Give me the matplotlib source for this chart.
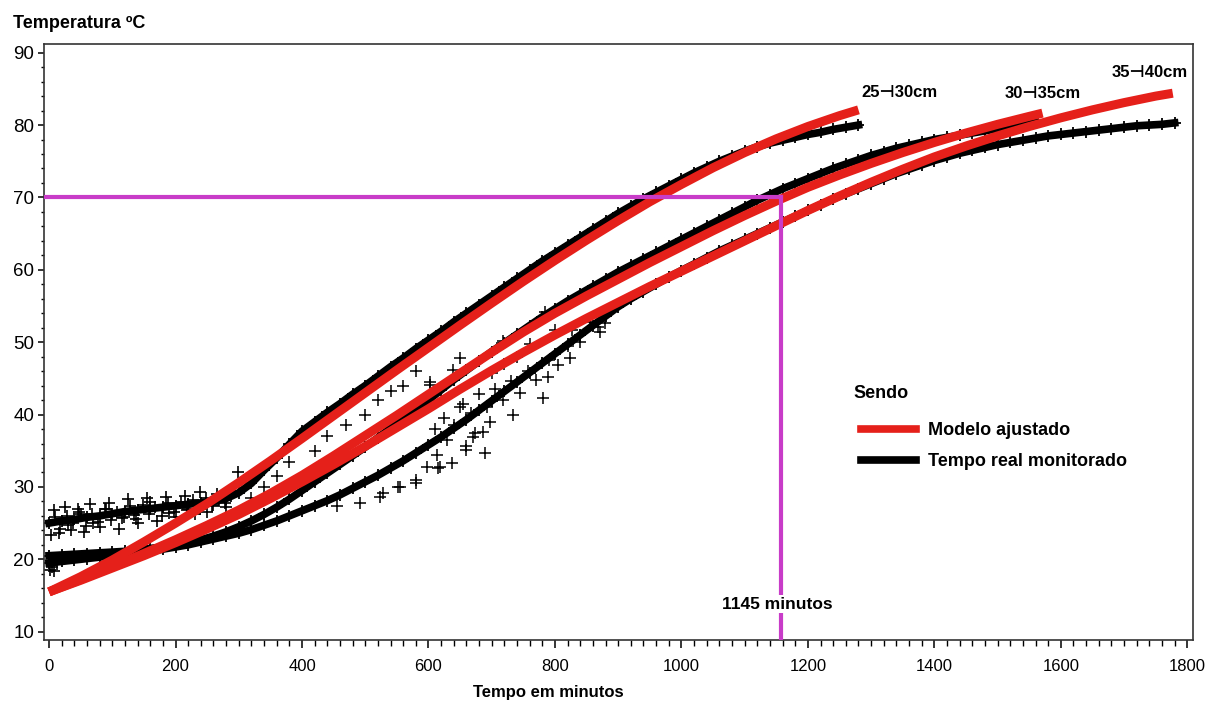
import matplotlib

matplotlib.use("Agg")

import matplotlib.pyplot as plt
import numpy as np
from matplotlib.lines import Line2D
from matplotlib.ticker import MultipleLocator

plt.rcParams["font.family"] = ["Liberation Sans", "DejaVu Sans"]

# =====================
# DATA
# =====================

# monitored temperatures (black +), one reading every 20 minutes
obs_a_t = np.arange(0, 1281, 20)
obs_a = [25.0, 25.3, 25.5, 25.8, 26.0, 26.3, 26.6, 26.8, 27.0, 27.2,
         27.4, 27.6, 27.8, 28.0, 28.4, 29.2, 30.5, 32.3, 34.0, 35.9,
         37.7, 39.0, 40.3, 41.5, 42.8, 44.0, 45.3, 46.6, 47.8, 49.1,
         50.3, 51.5, 52.8, 54.0, 55.2, 56.4, 57.6, 58.8, 60.0, 61.2,
         62.3, 63.4, 64.5, 65.6, 66.7, 67.8, 68.8, 69.8, 70.7, 71.6,
         72.5, 73.4, 74.2, 75.0, 75.7, 76.4, 77.0, 77.5, 77.9, 78.3,
         78.7, 79.0, 79.4, 79.7, 80.0]

obs_b_t = np.arange(0, 1561, 20)
obs_b = [20.5, 20.6, 20.7, 20.8, 20.9, 21.0, 21.1, 21.3, 21.5, 21.7,
         22.0, 22.3, 22.7, 23.2, 23.8, 24.5, 25.3, 26.2, 27.2, 28.3,
         29.5, 30.7, 31.9, 33.1, 34.3, 35.5, 36.8, 38.1, 39.4, 40.7,
         42.0, 43.4, 44.8, 46.1, 47.4, 48.7, 49.9, 51.1, 52.3, 53.5,
         54.6, 55.7, 56.7, 57.7, 58.7, 59.7, 60.6, 61.5, 62.4, 63.3,
         64.2, 65.1, 66.0, 66.9, 67.8, 68.7, 69.6, 70.4, 71.2, 71.9,
         72.6, 73.3, 74.0, 74.6, 75.2, 75.8, 76.3, 76.8, 77.2, 77.6,
         78.0, 78.3, 78.6, 78.9, 79.2, 79.5, 79.8, 80.1, 80.4]

obs_c_t = np.arange(0, 1781, 20)
obs_c = [19.5, 19.7, 19.9, 20.1, 20.3, 20.5, 20.7, 20.9, 21.1, 21.4,
         21.7, 22.0, 22.4, 22.8, 23.2, 23.6, 24.1, 24.7, 25.3, 26.0,
         26.7, 27.4, 28.1, 28.9, 29.8, 30.7, 31.6, 32.6, 33.6, 34.7,
         35.8, 36.9, 38.1, 39.3, 40.6, 41.9, 43.2, 44.5, 45.8, 47.1,
         48.4, 49.7, 51.0, 52.3, 53.6, 54.9, 56.0, 57.0, 58.0, 59.0,
         59.9, 60.8, 61.7, 62.6, 63.4, 64.2, 65.0, 65.8, 66.6, 67.4,
         68.2, 69.0, 69.8, 70.5, 71.2, 71.9, 72.6, 73.3, 73.9, 74.5,
         75.1, 75.6, 76.1, 76.5, 76.9, 77.3, 77.6, 77.9, 78.2, 78.5,
         78.7, 78.9, 79.1, 79.3, 79.5, 79.7, 79.9, 80.0, 80.1, 80.3]

# scattered readings of the early plateau
early_t = [3, 8, 15, 25, 35, 45, 55, 65, 80, 95,
           110, 125, 140, 155, 170, 185, 200, 215, 230, 239,
           250, 265, 280, 290, 299, 10, 30, 50, 70, 90,
           115, 135, 160, 190, 220, 260, 2, 5, 8, 12,
           18, 28, 38, 48, 58, 68, 78, 88, 98, 108,
           118, 128, 138, 148, 158, 168, 178, 188, 198, 208,
           218, 228, 238, 248, 258, 268, 278, 288]
early_temp = [23.3, 26.8, 23.6, 27.2, 24.0, 27.0, 23.8, 27.6, 24.5, 27.8,
              24.2, 28.3, 25.0, 28.5, 25.3, 28.6, 25.8, 28.8, 26.2, 29.3,
              26.5, 29.0, 27.2, 29.5, 32.0, 25.8, 24.8, 26.2, 25.0, 26.9,
              25.7, 26.1, 27.9, 26.4, 27.0, 27.5, 18.5, 19.0, 18.4, 19.3,
              24.2, 26.0, 25.0, 26.5, 24.6, 26.3, 25.2, 27.0, 25.4, 26.6,
              25.9, 27.3, 25.6, 27.5, 26.3, 27.2, 26.0, 27.8, 26.6, 27.9,
              26.8, 28.2, 27.0, 28.5, 27.4, 28.0, 27.8, 28.8]

# scattered readings in the rising part (300-900 min)
cloud_t = [320, 340, 360, 380, 420, 440, 460, 470, 500, 520, 540, 560, 580, 602, 603, 639, 650,
           455, 492, 523, 528, 552, 555, 581, 581, 597, 613, 615, 618, 629, 637, 650, 660, 660,
           671, 673, 686, 689, 697, 708, 718, 734, 781, 784, 789, 803, 824, 868, 871,
           610, 625, 640, 655, 668, 680, 692, 705, 718, 730, 745, 758, 770, 790, 805, 820,
           840, 855, 700, 720, 740, 760, 800, 827, 879]
cloud_temp = [28.5, 30.0, 31.5, 33.5, 35.0, 37.0, 41.1, 38.5, 40.0, 42.0, 43.2, 44.0, 46.0, 44.1, 44.5, 46.1, 47.8,
              27.3, 27.8, 28.6, 29.2, 30.0, 30.0, 31.0, 30.5, 32.8, 34.4, 32.6, 32.8, 36.5, 33.3, 41.1, 35.6, 35.1,
              36.9, 37.4, 37.6, 34.7, 39.0, 49.2, 50.1, 39.9, 42.3, 54.2, 45.2, 54.4, 47.8, 52.1, 51.4,
              38.0, 39.5, 38.5, 41.5, 40.2, 42.8, 41.0, 43.5, 42.0, 44.6, 43.0, 46.0, 44.8, 47.5, 46.8, 49.5,
              50.0, 52.8, 45.8, 47.0, 48.0, 49.8, 51.7, 51.7, 52.6]

# fitted models (red)
fit_a_t = list(range(0, 1251, 50)) + [1280]
fit_a = [15.5, 17.6, 19.9, 22.4, 25.0, 27.7, 30.6, 33.6, 36.7, 39.85, 43.0, 46.15, 49.25,
         52.35, 55.4, 58.4, 61.3, 64.1, 66.8, 69.4, 71.8, 74.1, 76.2, 78.1, 79.8, 81.3, 82.1]

fit_b_t = list(range(0, 1551, 50)) + [1571]
fit_b = [15.5, 17.2, 19.0, 20.8, 22.7, 24.7, 26.8, 29.1, 31.6, 34.3, 37.1, 39.9, 42.8,
         45.7, 48.6, 51.4, 54.0, 56.4, 58.7, 61.0, 63.2, 65.4, 67.5, 69.5, 71.4, 73.1,
         74.7, 76.2, 77.6, 78.9, 80.1, 81.2, 81.65]

fit_c_t = list(range(0, 1751, 50)) + [1777]
fit_c = [15.5, 17.1, 18.8, 20.5, 22.3, 24.2, 26.2, 28.4, 30.7, 33.1, 35.6, 38.2, 40.8,
         43.5, 46.1, 48.6, 51.0, 53.3, 55.5, 57.7, 59.8, 61.9, 64.0, 66.1, 68.2, 70.2,
         72.1, 73.9, 75.6, 77.1, 78.5, 79.8, 81.0, 82.1, 83.1, 84.0, 84.4]

depth_labels = ["25\u22a330cm", "30\u22a335cm", "35\u22a340cm"]
label_x = [1285, 1511, 1681]
label_y = [84.5, 84.4, 87.3]

target_temp = 70
target_time = 1157
target_text = "1145 minutos"

RED = "#e5201a"
MAGENTA = "#c83cc8"

# =====================
# PLOT
# =====================

fig = plt.figure(figsize=(12.1, 7.05), dpi=100)
ax = fig.add_axes([44 / 1210, 1 - 640 / 705, 1149 / 1210, 596 / 705])

for t, v in [(obs_a_t, obs_a), (obs_b_t, obs_b), (obs_c_t, obs_c)]:
    ax.plot(t, v, color="black", lw=5.5, zorder=2)
    ax.plot(t, v, ls="none", marker="+", ms=9, mew=1.3, color="black", zorder=2)

ax.plot(early_t, early_temp, ls="none", marker="+", ms=8.5, mew=1.2, color="black", zorder=2)
ax.plot(cloud_t, cloud_temp, ls="none", marker="+", ms=8.5, mew=1.1, color="black", zorder=2)

for t, v in [(fit_a_t, fit_a), (fit_b_t, fit_b), (fit_c_t, fit_c)]:
    ax.plot(t, v, color=RED, lw=6.5, solid_capstyle="butt", zorder=3)

xmin, xmax = -8, 1809
ymin, ymax = 8.85, 91.2

ax.plot([xmin, target_time], [target_temp, target_temp], color=MAGENTA, lw=3, zorder=4)
ax.plot([target_time, target_time], [target_temp, ymin], color=MAGENTA, lw=3, zorder=4)

ax.text(1151, 13.8, target_text, ha="center", va="center", fontsize=12.5,
        fontweight="bold", zorder=5,
        bbox=dict(facecolor="white", edgecolor="none", pad=1))

for txt, x, y in zip(depth_labels, label_x, label_y):
    ax.text(x, y, txt, ha="left", va="center", fontsize=12, fontweight="bold",
            family=["Liberation Sans", "DejaVu Sans"])

ax.set_xlim(xmin, xmax)
ax.set_ylim(ymin, ymax)
ax.set_xticks(np.arange(0, 1801, 200))
ax.set_yticks(np.arange(10, 91, 10))
ax.xaxis.set_minor_locator(MultipleLocator(20))
ax.yaxis.set_minor_locator(MultipleLocator(2))

ax.tick_params(axis="x", which="major", length=6, width=1.1, pad=8, labelsize=12)
ax.tick_params(axis="x", which="minor", length=4, width=1)
ax.tick_params(axis="y", which="major", length=4, width=1.1, pad=3, labelsize=13.5)
ax.tick_params(axis="y", which="minor", length=2.5, width=1)

for s in ax.spines.values():
    s.set_color("#333333")
    s.set_linewidth(1.2)

fig.text(13 / 1210, 1 - 24 / 705, "Temperatura ºC", ha="left", va="center",
         fontsize=13, fontweight="bold")
fig.text(548 / 1210, 1 - 692 / 705, "Tempo em minutos", ha="center", va="center",
         fontsize=12, fontweight="bold")

# legend
fig.text(853 / 1210, 1 - 393 / 705, "Sendo", ha="left", va="center",
         fontsize=13, fontweight="bold")
handles = [Line2D([], [], color=RED, lw=5.5), Line2D([], [], color="black", lw=5.5)]
ax.legend(handles, ["Modelo ajustado", "Tempo real monitorado"],
          loc="center left", bbox_to_anchor=(852 / 1210, 1 - 446 / 705),
          bbox_transform=fig.transFigure, frameon=False, borderpad=0,
          handlelength=3.05, handletextpad=0.67, labelspacing=0.76,
          prop={"weight": "bold", "size": 13})

plt.savefig("out.png", dpi=100)
plt.close()
